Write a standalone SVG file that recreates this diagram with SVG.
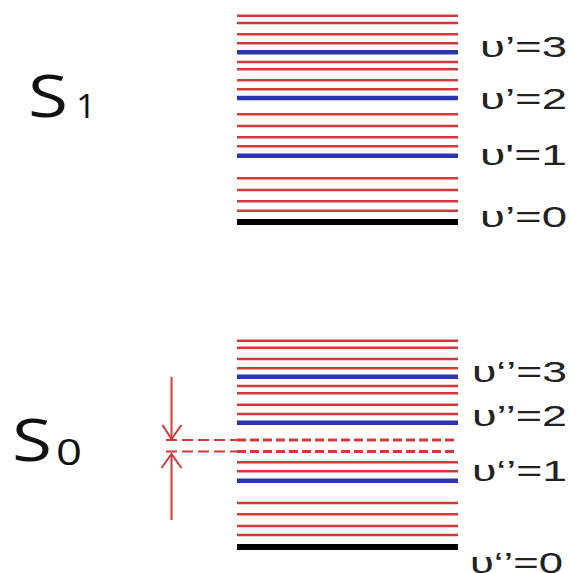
<svg xmlns="http://www.w3.org/2000/svg" width="571" height="573" viewBox="0 0 571 573">
<style>
.r{stroke:#d23a3a;stroke-width:2.6}
.b{stroke:#2a34b0;stroke-width:4.5}
.k{stroke:#000;stroke-width:6}
.lbl{font-family:"Liberation Sans",Arial,sans-serif;font-size:30px;fill:#222}
.st{font-family:"Open Sans",sans-serif;fill:#111}
.d1{stroke:#d23a3a;stroke-width:2;stroke-dasharray:11 5;fill:none}
.d2{stroke:#d23a3a;stroke-width:3;stroke-dasharray:9 4;fill:none}
.ar{stroke:#d23a3a;stroke-width:2;fill:none}
</style>
<rect width="571" height="573" fill="#fff"/>
<g id="S1">
<text class="st" x="28" y="117" font-size="58" textLength="40" lengthAdjust="spacingAndGlyphs">S</text>
<text class="st" x="76" y="118" font-size="32" textLength="20" lengthAdjust="spacingAndGlyphs">1</text>
<g id="S1-levels">
<line class="r" x1="237" y1="15.7" x2="458" y2="15.7"/>
<line class="r" x1="237" y1="23" x2="458" y2="23"/>
<line class="r" x1="237" y1="34.3" x2="458" y2="34.3"/>
<line class="r" x1="237" y1="43.3" x2="458" y2="43.3"/>
<line class="b" x1="237" y1="52.3" x2="458" y2="52.3"/>
<line class="r" x1="237" y1="62" x2="458" y2="62"/>
<line class="r" x1="237" y1="69.3" x2="458" y2="69.3"/>
<line class="r" x1="237" y1="80.3" x2="458" y2="80.3"/>
<line class="r" x1="237" y1="89.3" x2="458" y2="89.3"/>
<line class="b" x1="237" y1="98" x2="458" y2="98"/>
<line class="r" x1="237" y1="114.3" x2="458" y2="114.3"/>
<line class="r" x1="237" y1="126" x2="458" y2="126"/>
<line class="r" x1="237" y1="137.3" x2="458" y2="137.3"/>
<line class="r" x1="237" y1="146.3" x2="458" y2="146.3"/>
<line class="b" x1="237" y1="155.7" x2="458" y2="155.7"/>
<line class="r" x1="237" y1="178.3" x2="458" y2="178.3"/>
<line class="r" x1="237" y1="190" x2="458" y2="190"/>
<line class="r" x1="237" y1="201.3" x2="458" y2="201.3"/>
<line class="r" x1="237" y1="210.7" x2="458" y2="210.7"/>
<line class="k" x1="237" y1="222" x2="458" y2="222"/>
</g>
<text class="lbl" x="480" y="57" textLength="87" lengthAdjust="spacingAndGlyphs">υ’=3</text>
<text class="lbl" x="480" y="109" textLength="87" lengthAdjust="spacingAndGlyphs">υ’=2</text>
<text class="lbl" x="480" y="165" textLength="87" lengthAdjust="spacingAndGlyphs">υ'=1</text>
<text class="lbl" x="480" y="227" textLength="87" lengthAdjust="spacingAndGlyphs">υ’=0</text>
</g>
<g id="S0">
<text class="st" x="12" y="461" font-size="58" textLength="40" lengthAdjust="spacingAndGlyphs">S</text>
<text class="st" x="56" y="465" font-size="36" textLength="26" lengthAdjust="spacingAndGlyphs">0</text>
<g id="S0-levels">
<line class="r" x1="237" y1="340.7" x2="458" y2="340.7"/>
<line class="r" x1="237" y1="347.7" x2="458" y2="347.7"/>
<line class="r" x1="237" y1="359" x2="458" y2="359"/>
<line class="r" x1="237" y1="368.3" x2="458" y2="368.3"/>
<line class="b" x1="237" y1="376.7" x2="458" y2="376.7"/>
<line class="r" x1="237" y1="386" x2="458" y2="386"/>
<line class="r" x1="237" y1="393.3" x2="458" y2="393.3"/>
<line class="r" x1="237" y1="404.7" x2="458" y2="404.7"/>
<line class="r" x1="237" y1="414" x2="458" y2="414"/>
<line class="b" x1="237" y1="422.7" x2="458" y2="422.7"/>
<line class="r" x1="237" y1="462.3" x2="458" y2="462.3"/>
<line class="r" x1="237" y1="471.3" x2="458" y2="471.3"/>
<line class="b" x1="237" y1="480.7" x2="458" y2="480.7"/>
<line class="r" x1="237" y1="503" x2="458" y2="503"/>
<line class="r" x1="237" y1="514.3" x2="458" y2="514.3"/>
<line class="r" x1="237" y1="526" x2="458" y2="526"/>
<line class="r" x1="237" y1="535" x2="458" y2="535"/>
<line class="k" x1="237" y1="547" x2="458" y2="547"/>
</g>
<text class="lbl" x="472" y="382" textLength="95" lengthAdjust="spacingAndGlyphs">υ‘’=3</text>
<text class="lbl" x="472" y="426" textLength="95" lengthAdjust="spacingAndGlyphs">υ’’=2</text>
<text class="lbl" x="472" y="481" textLength="95" lengthAdjust="spacingAndGlyphs">υ‘’=1</text>
<text class="lbl" x="470" y="573" textLength="93" lengthAdjust="spacingAndGlyphs">υ‘’=0</text>
</g>
<g id="connectors">
<line class="d1" x1="166" y1="440" x2="237" y2="440"/>
<line class="d2" x1="237" y1="440" x2="458" y2="440"/>
<line class="d1" x1="166" y1="451.5" x2="237" y2="451.5"/>
<line class="d2" x1="237" y1="451.5" x2="458" y2="451.5"/>
<line class="ar" x1="171.5" y1="377" x2="171.5" y2="439"/>
<polyline class="ar" points="162.5,425 171.5,439 181.5,425"/>
<line class="ar" x1="171.5" y1="520" x2="171.5" y2="454"/>
<polyline class="ar" points="161.5,468 171.5,454 181.5,468"/>
</g>
</svg>
